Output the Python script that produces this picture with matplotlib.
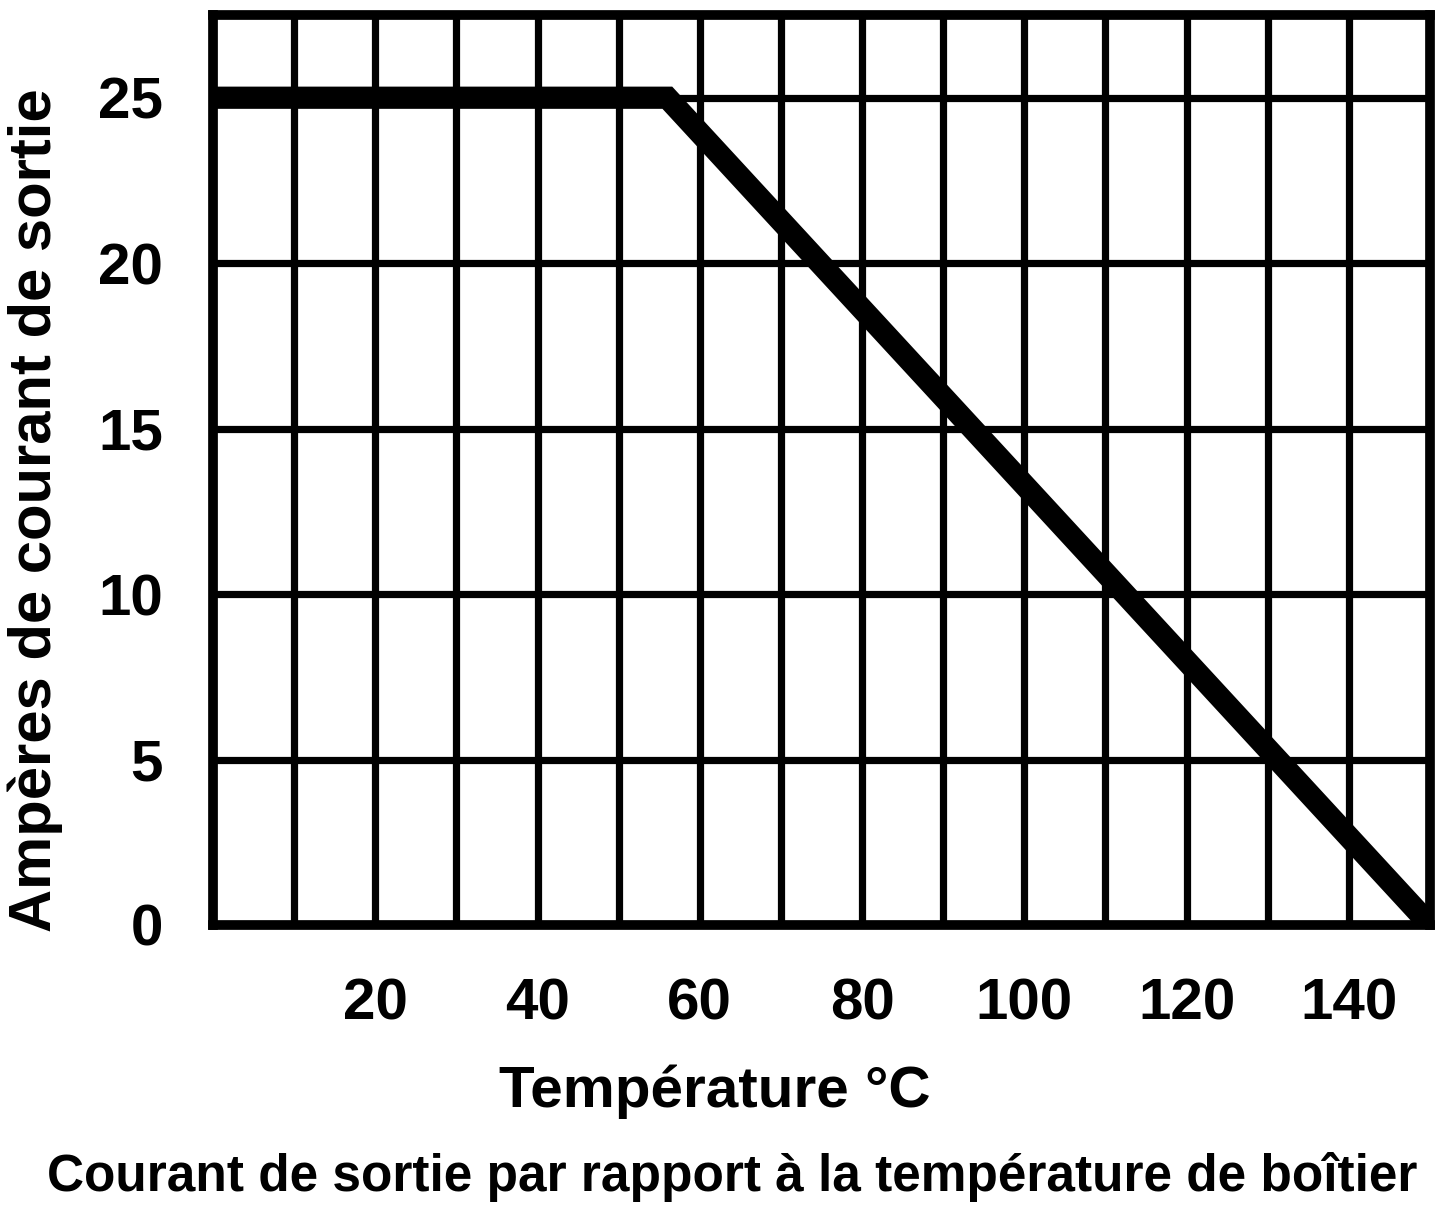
import matplotlib.pyplot as plt

# Derating curve: output current vs case temperature
temperature = [0, 56, 150]   # degC
current = [25, 25, 0]        # A

x_grid = list(range(0, 151, 10))
x_labels = ['' if t % 20 or t == 0 else str(t) for t in x_grid]
y_ticks = [0, 5, 10, 15, 20, 25]

plt.rcParams['font.family'] = ['Liberation Sans', 'DejaVu Sans']
plt.rcParams['font.weight'] = 'bold'

W, H = 1443, 1210
fig = plt.figure(figsize=(W / 100, H / 100), dpi=100)
ax = fig.add_axes([213 / W, 1 - 925 / H, 1217 / W, 910 / H])

ax.plot(temperature, current, color='black', linewidth=16,
        solid_joinstyle='miter', solid_capstyle='butt', zorder=3)

ax.set_xlim(0, 150)
ax.set_ylim(0, 27.5)
ax.set_xticks(x_grid)
ax.set_xticklabels(x_labels, fontsize=42, fontweight='bold')
ax.set_yticks(y_ticks)
ax.set_yticklabels([str(v) for v in y_ticks], fontsize=42, fontweight='bold')
ax.tick_params(length=0)
ax.tick_params(axis='x', pad=38)
ax.tick_params(axis='y', pad=36)
ax.grid(True, color='black', linewidth=5.2)
for s in ax.spines.values():
    s.set_linewidth(7)

ax.set_xlabel('Température °C', fontsize=42, fontweight='bold')
ax.xaxis.label.set_va('center')
ax.xaxis.set_label_coords((715 - 213) / 1217, (925 - 1092) / 910)
ax.set_ylabel('Ampères de courant de sortie', fontsize=43, fontweight='bold')
ax.yaxis.label.set_va('center')
ax.yaxis.set_label_coords((35 - 213) / 1217, (925 - 510) / 910)

fig.text(732 / W, 1 - 1177 / H,
         'Courant de sortie par rapport à la température de boîtier',
         fontsize=37, fontweight='bold', ha='center', va='center')

fig.savefig('out.png', dpi=100)
